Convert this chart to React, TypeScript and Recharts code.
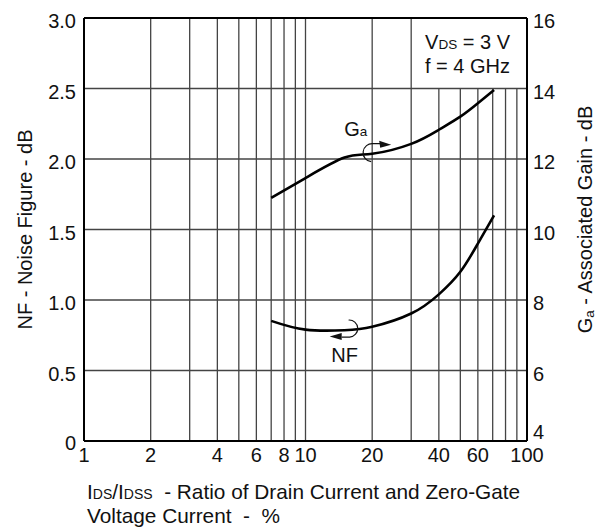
import React from 'react';
import {
  ComposedChart,
  Line,
  XAxis,
  YAxis,
  CartesianGrid,
  ReferenceLine,
  ReferenceDot,
  Label,
} from 'recharts';

// IDS/IDSS ratio in %
const current = [7, 10, 15, 20, 30, 40, 50, 60, 71];
// associated gain, dB (right axis)
const gain = [10.9, 11.46, 12.04, 12.15, 12.43, 12.83, 13.2, 13.58, 13.96];
// noise figure, dB (left axis)
const noise = [0.852, 0.79, 0.786, 0.81, 0.904, 1.04, 1.2, 1.4, 1.6];

const xTicks = [1, 2, 4, 6, 8, 10, 20, 40, 60, 80, 100];
const xGrid = [2, 3, 4, 5, 6, 7, 8, 9, 10, 20, 30, 40, 50, 60, 70, 80, 90];
const nfTicks = [0, 0.5, 1, 1.5, 2, 2.5, 3];
const gaTicks = [4, 6, 8, 10, 12, 14, 16];

const data = current.map((x, i) => ({ x, ga: gain[i], nf: noise[i] }));

const FONT = '"Liberation Sans", Arial, sans-serif';
const FS = 20;
const TFS = 20.8;
const SUB = 13.5;
const GRID = '#444';
const NB = '\u00a0';

const LeftTick = (p: any) => (
  <text x={p.x} y={p.y} dy={p.payload.value === 0 ? 9 : 10} textAnchor="end" fontSize={FS} fill="#111" fontFamily={FONT}>
    {p.payload.value === 0 ? '0' : p.payload.value.toFixed(1)}
  </text>
);

const RightTick = (p: any) => (
  <text x={p.x} y={p.y} dy={p.payload.value === 4 ? -2 : 10} textAnchor="start" fontSize={FS} fill="#111" fontFamily={FONT}>
    {p.payload.value}
  </text>
);

const BottomTick = (p: any) => (
  <text x={p.x} y={p.y} dy={21} textAnchor="middle" fontSize={FS} fill="#111" fontFamily={FONT}>
    {p.payload.value}
  </text>
);

const GaArrow = (p: any) => {
  const { cx, cy } = p;
  return (
    <g>
      <path
        d={`M ${cx - 1} ${cy + 8} A 9 9 0 1 1 ${cx + 1} ${cy - 10} L ${cx + 9} ${cy - 10}`}
        fill="none"
        stroke="#111"
        strokeWidth={1.2}
      />
      <polygon points={`${cx + 19},${cy - 9} ${cx + 7},${cy - 13} ${cx + 8},${cy - 6}`} fill="#111" />
      <text x={cx - 28} y={cy - 18} fontSize={FS} fill="#111" fontFamily={FONT}>
        G<tspan fontSize={SUB}>a</tspan>
      </text>
    </g>
  );
};

const NfArrow = (p: any) => {
  const { cx, cy } = p;
  return (
    <g>
      <path
        d={`M ${cx - 5} ${cy - 10} A 8.5 8.5 0 1 1 ${cx - 4} ${cy + 7} L ${cx - 12} ${cy + 7}`}
        fill="none"
        stroke="#111"
        strokeWidth={1.2}
      />
      <polygon points={`${cx - 24},${cy + 6.5} ${cx - 12},${cy + 3} ${cx - 12},${cy + 10}`} fill="#111" />
      <text x={cx - 9} y={cy + 32} textAnchor="middle" fontSize={FS} fill="#111" fontFamily={FONT}>
        NF
      </text>
    </g>
  );
};

const Conditions = (p: any) => {
  const { cx, cy } = p;
  return (
    <g fontFamily={FONT} fontSize={FS} fill="#111">
      <text x={cx - 17} y={cy + 31} textAnchor="end">
        V<tspan fontSize={SUB}>DS</tspan> = 3 V
      </text>
      <text x={cx - 17} y={cy + 55} textAnchor="end">
        f = 4 GHz
      </text>
    </g>
  );
};

const LeftTitle = (p: any) => {
  const vb = p.viewBox;
  const x = vb.x + 32;
  const y = vb.y + vb.height / 2;
  return (
    <text x={x} y={y} transform={`rotate(-90 ${x} ${y})`} textAnchor="middle" fontSize={FS} fill="#111" fontFamily={FONT}>
      NF - Noise Figure - dB
    </text>
  );
};

const RightTitle = (p: any) => {
  const vb = p.viewBox;
  const x = vb.x + 65;
  const y = vb.y + vb.height / 2 - 10;
  return (
    <text x={x} y={y} transform={`rotate(-90 ${x} ${y})`} textAnchor="middle" fontSize={FS} fill="#111" fontFamily={FONT}>
      G<tspan fontSize={SUB} dy={1.5}>a</tspan>
      <tspan dy={-1.5}> - Associated Gain - dB</tspan>
    </text>
  );
};

const BottomTitle = (p: any) => {
  const vb = p.viewBox;
  const x = vb.x + 3;
  return (
    <g fontFamily={FONT} fontSize={TFS} fill="#111">
      <text x={x} y={vb.y + 58}>
        I<tspan fontSize={SUB + 0.5}>DS</tspan>/I<tspan fontSize={SUB + 0.5}>DSS</tspan>
        {`${NB}${NB}- Ratio of Drain Current and Zero-Gate`}
      </text>
      <text x={x} y={vb.y + 82}>
        {`Voltage Current${NB}${NB}-${NB}${NB}%`}
      </text>
    </g>
  );
};

export default function App() {
  return (
    <div style={{ position: 'absolute', left: 0, top: 0, background: '#fff', fontFamily: FONT }}>
      <ComposedChart width={598} height={527} data={data} margin={{ top: 18, right: 0, bottom: 0, left: 0 }}>
        <CartesianGrid vertical={false} yAxisId="left" stroke={GRID} strokeWidth={1.3} />
        {xGrid.map((v) => (
          <ReferenceLine
            key={'g' + v}
            yAxisId="left"
            segment={[
              { x: v, y: 0 },
              { x: v, y: v >= 40 ? 2.5 : 3 },
            ]}
            stroke={GRID}
            strokeWidth={1.3}
          />
        ))}
        <ReferenceLine yAxisId="left" y={3} stroke="#000" strokeWidth={2} />
        <XAxis
          dataKey="x"
          type="number"
          scale="log"
          domain={[1, 100]}
          ticks={xTicks}
          allowDataOverflow
          height={86}
          tickSize={0}
          tickMargin={0}
          tickLine={false}
          axisLine={{ stroke: '#000', strokeWidth: 2 }}
          tick={BottomTick}
        >
          <Label content={BottomTitle} />
        </XAxis>
        <YAxis
          yAxisId="left"
          domain={[0, 3]}
          ticks={nfTicks}
          width={84}
          tickSize={0}
          tickMargin={8}
          tickLine={false}
          axisLine={{ stroke: '#000', strokeWidth: 2 }}
          tick={LeftTick}
        >
          <Label content={LeftTitle} />
        </YAxis>
        <YAxis
          yAxisId="right"
          orientation="right"
          domain={[4, 16]}
          ticks={gaTicks}
          width={71}
          tickSize={0}
          tickMargin={6}
          tickLine={false}
          axisLine={{ stroke: '#000', strokeWidth: 2 }}
          tick={RightTick}
        >
          <Label content={RightTitle} />
        </YAxis>
        <Line yAxisId="right" dataKey="ga" type="natural" stroke="#000" strokeWidth={2.6} dot={false} isAnimationActive={false} />
        <Line yAxisId="left" dataKey="nf" type="natural" stroke="#000" strokeWidth={2.6} dot={false} isAnimationActive={false} />
        <ReferenceDot yAxisId="right" x={20} y={12.15} r={0} shape={GaArrow} />
        <ReferenceDot yAxisId="left" x={16.5} y={0.787} r={0} shape={NfArrow} />
        <ReferenceDot yAxisId="left" x={100} y={3} r={0} shape={Conditions} />
      </ComposedChart>
    </div>
  );
}
